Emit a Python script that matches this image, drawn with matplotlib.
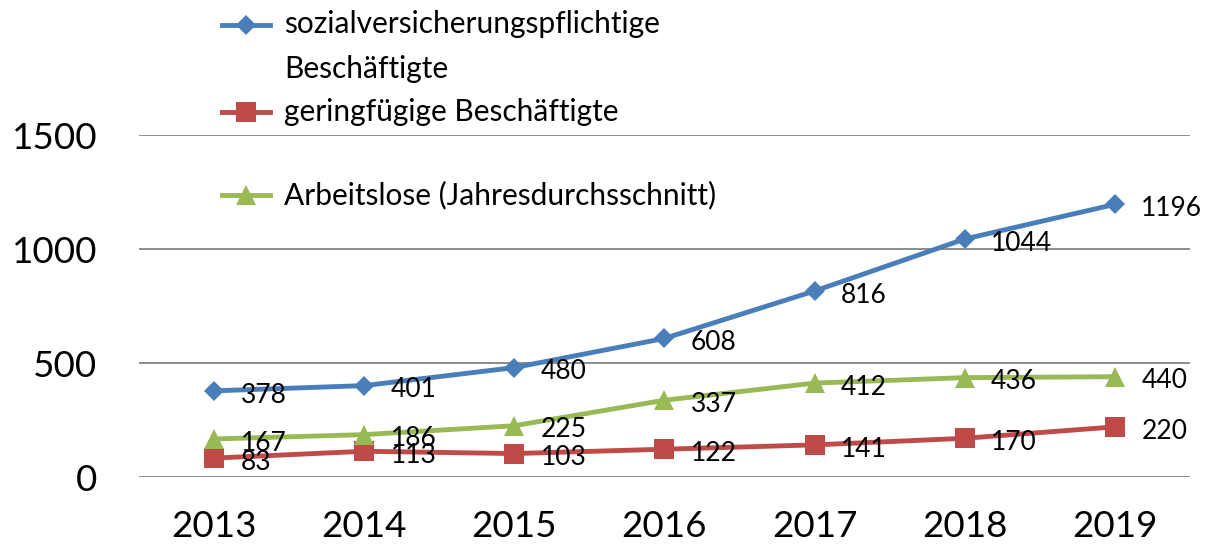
import matplotlib.pyplot as plt
from matplotlib.lines import Line2D

plt.rcParams['font.family'] = ['Lato', 'DejaVu Sans']

years = ['2013', '2014', '2015', '2016', '2017', '2018', '2019']
svb = [378, 401, 480, 608, 816, 1044, 1196]
geringfuegig = [83, 113, 103, 122, 141, 170, 220]
arbeitslose = [167, 186, 225, 337, 412, 436, 440]

labels = ['sozialversicherungspflichtige\nBeschäftigte',
          'geringfügige Beschäftigte',
          'Arbeitslose (Jahresdurchsschnitt)']
colors = ['#4A7EBB', '#BE4B48', '#98B954']
markers = ['D', 's', '^']
msizes = [10, 14, 14]

fig = plt.figure(figsize=(12.12, 5.49), dpi=100)
ax = fig.add_axes([0.1147, 0.1311, 0.8671, 0.6229])

x = list(range(len(years)))
series = [svb, geringfuegig, arbeitslose]
for vals, c, m, ms in zip(series, colors, markers, msizes):
    ax.plot(x, vals, color=c, lw=3.5, marker=m, markersize=ms,
            markeredgewidth=0, zorder=3)
    for xi, v in zip(x, vals):
        ax.annotate(str(v), (xi, v), xytext=(19, -3), textcoords='offset points',
                    ha='left', va='center', fontsize=19, color='black', zorder=4)

ax.set_xlim(-0.5, len(years) - 0.5)
ax.set_ylim(0, 1500)
ax.set_yticks([0, 500, 1000, 1500])
ax.set_xticks(x)
ax.set_xticklabels(years)
ax.tick_params(axis='both', length=0, labelsize=26.5)
ax.tick_params(axis='y', pad=30)
ax.tick_params(axis='x', pad=24)
ax.grid(axis='y', color='#8C8C8C', lw=1.4)
ax.set_axisbelow(True)
for s in ax.spines.values():
    s.set_visible(False)

# legend drawn by hand (Excel layout)
W, H = 1212, 549
entries_y = [25, 112, 195]
for lab, c, m, ms, ypx in zip(labels, colors, markers, msizes, entries_y):
    yf = 1 - ypx / H
    fig.add_artist(Line2D([222 / W, 270 / W], [yf, yf], color=c, lw=3.5,
                          transform=fig.transFigure))
    fig.add_artist(Line2D([246 / W], [yf], color=c, marker=m, markersize=ms,
                          markeredgewidth=0, transform=fig.transFigure))
    if '\n' in lab:
        fig.text(284 / W, 1 - (ypx - 15) / H, lab, ha='left', va='top',
                 fontsize=21.5, linespacing=1.75, transform=fig.transFigure)
    else:
        fig.text(284 / W, yf, lab, ha='left', va='center',
                 fontsize=21.5, transform=fig.transFigure)

fig.savefig('out.png', dpi=100)
